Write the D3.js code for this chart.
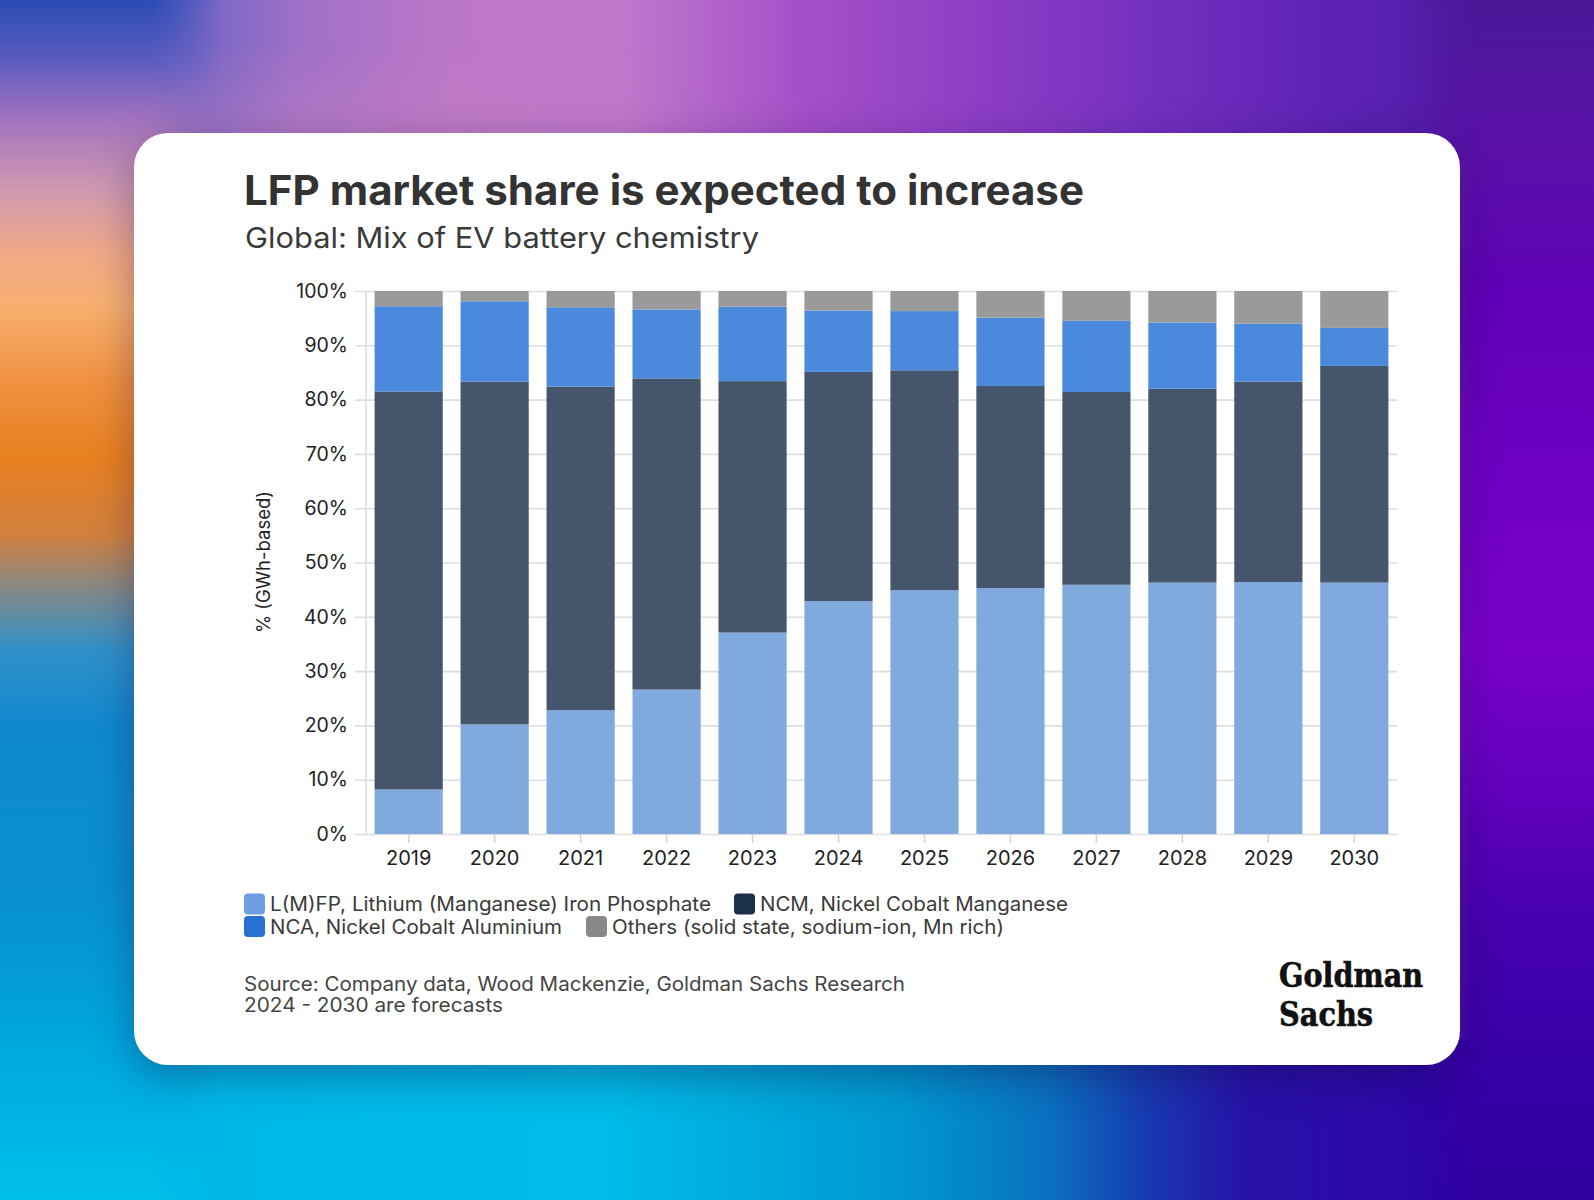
<!DOCTYPE html>
<html>
<head>
<meta charset="utf-8">
<script src="https://cdn.jsdelivr.net/npm/d3@7"></script>
<style>
  html, body { margin: 0; padding: 0; }
  body {
    width: 1594px; height: 1200px; overflow: hidden; position: relative;
    background: #7a3cc0;
  }
  .bg { position: absolute; }
  #bgTop {
    left: 0; top: 0; width: 1594px; height: 160px;
    background: linear-gradient(to right, #3050b8 0px, #6060c4 150px, #a070c8 300px, #bc78c8 450px, #c078cc 620px, #a450c8 800px, #8a3cc4 1000px, #7430c0 1150px, #5e22b4 1330px, #4a18a0 1594px);
  }
  #bgTopShade {
    left: 0; top: 0; width: 700px; height: 160px;
    background: linear-gradient(to bottom, rgba(200,130,190,0) 40px, rgba(200,130,190,0.45) 140px);
    -webkit-mask-image: linear-gradient(to right, black 0px, black 300px, transparent 700px);
  }
  #bgBottom {
    left: 0; top: 1040px; width: 1594px; height: 160px;
    background: linear-gradient(to right, #0aa0d8 0px, #00b8e8 200px, #00bce8 600px, #0098d0 900px, #0a70c0 1050px, #1838b0 1150px, #2810a8 1250px, #3200a8 1594px);
  }
  #bgLeft {
    left: 0; top: 0; width: 220px; height: 1200px;
    background: linear-gradient(to bottom, #2a4cb4 0px, #5a5cc0 60px, #a070c0 115px, #d09ab0 191px, #f0a888 252px, #f8b070 306px, #f09040 383px, #e88020 459px, #d08040 536px, #7a8a90 597px, #3090c8 650px, #1088d0 727px, #0890d0 900px, #00a8e0 1050px, #00c0e8 1200px);
    -webkit-mask-image: linear-gradient(to right, black 0px, black 150px, transparent 220px);
    mask-image: linear-gradient(to right, black 0px, black 150px, transparent 220px);
  }
  #bgRight {
    left: 1400px; top: 0; width: 194px; height: 1200px;
    background: linear-gradient(to bottom, #4a1898 0px, #5a10a8 150px, #6000b8 300px, #7000c4 500px, #7800c8 650px, #6000bc 800px, #4a00b0 900px, #3600a6 1080px, #3000a0 1200px);
    -webkit-mask-image: linear-gradient(to left, black 0px, black 120px, transparent 194px);
    mask-image: linear-gradient(to left, black 0px, black 120px, transparent 194px);
  }
  #card {
    position: absolute; left: 134px; top: 133px; width: 1326px; height: 932px;
    background: #fff; border-radius: 34px;
    box-shadow: 0 12px 40px rgba(20,10,60,0.35);
  }
  svg { position: absolute; left: 0; top: 0; }
  text { font-family: Inter, "Noto Sans", sans-serif; }
  text.logo { font-family: "DejaVu Serif", "Liberation Serif", serif; font-weight: 700; font-stretch: condensed; }
</style>
</head>
<body>
<div class="bg" id="bgTop"></div>
<div class="bg" id="bgTopShade"></div>
<div class="bg" id="bgBottom"></div>
<div class="bg" id="bgLeft"></div>
<div class="bg" id="bgRight"></div>
<div id="card"></div>
<svg id="chart" width="1594" height="1200"></svg>
<script>
const years = ["2019","2020","2021","2022","2023","2024","2025","2026","2027","2028","2029","2030"];
const seriesNames = ["L(M)FP, Lithium (Manganese) Iron Phosphate", "NCM, Nickel Cobalt Manganese", "NCA, Nickel Cobalt Aluminium", "Others (solid state, sodium-ion, Mn rich)"];
const lfp    = [8.2, 20.2, 22.8, 26.6, 37.1, 42.9, 44.9, 45.3, 45.9, 46.3, 46.4, 46.3];
const ncm    = [73.3, 63.1, 59.6, 57.3, 46.3, 42.2, 40.5, 37.2, 35.5, 35.7, 36.9, 39.9];
const nca    = [15.7, 14.8, 14.6, 12.7, 13.7, 11.3, 10.9, 12.6, 13.1, 12.2, 10.7, 7.0];
const others = [2.8, 1.9, 3.0, 3.4, 2.9, 3.6, 3.7, 4.9, 5.5, 5.8, 6.0, 6.8];
const yTicks = [0,10,20,30,40,50,60,70,80,90,100];

const barColors = ["#80a9de", "#45556b", "#4a89dc", "#9a9a9a"];
const swatchColors = ["#6c9ee0", "#1d3049", "#2870d4", "#888888"];

const svg = d3.select("#chart");

function fit(sel, w) {
  sel.attr("textLength", w).attr("lengthAdjust", "spacingAndGlyphs");
  return sel;
}

// Title & subtitle
fit(svg.append("text").attr("x", 244).attr("y", 205)
  .attr("font-size", 41).attr("font-weight", 700).attr("fill", "#333")
  .text("LFP market share is expected to increase"), 840);
fit(svg.append("text").attr("x", 245).attr("y", 248)
  .attr("font-size", 29).attr("font-weight", 400).attr("fill", "#3a3a3a")
  .text("Global: Mix of EV battery chemistry"), 514);

// Scales
const x = d3.scaleBand().domain(years).range([366, 1397]).paddingInner(0.207).paddingOuter(0.1);
const y = d3.scaleLinear().domain([0, 100]).range([834, 291]);

// Gridlines (via axis)
const grid = svg.append("g").attr("transform", "translate(1397,0)")
  .call(d3.axisLeft(y).tickValues(yTicks).tickSize(1042).tickFormat(""));
grid.select(".domain").remove();
grid.selectAll("line").attr("stroke", "#dedede").attr("stroke-width", 1.6);

// vertical axis line
svg.append("line").attr("x1", x.range()[0]).attr("x2", x.range()[0])
  .attr("y1", y(0)).attr("y2", y(100)).attr("stroke", "#dedede").attr("stroke-width", 1.6);

// Y labels
const yAx = svg.append("g").attr("transform", "translate(355,0)")
  .call(d3.axisLeft(y).tickValues(yTicks).tickSize(0).tickPadding(7).tickFormat(d => d + "%"));
yAx.select(".domain").remove();
yAx.selectAll("text").attr("font-size", 19.5).attr("fill", "#222");

// Y title
svg.append("text").attr("transform", "translate(270,562) rotate(-90)")
  .attr("text-anchor", "middle").attr("font-size", 18.5).attr("fill", "#222")
  .text("% (GWh-based)");

// Stacked data
const rows = years.map((yr, i) => ({year: yr, s0: lfp[i], s1: ncm[i], s2: nca[i], s3: others[i]}));
const stack = d3.stack().keys(["s0","s1","s2","s3"])(rows);

svg.append("g").selectAll("g").data(stack).join("g")
  .attr("fill", (d, i) => barColors[i])
  .selectAll("rect").data(d => d).join("rect")
  .attr("x", d => x(d.data.year))
  .attr("width", x.bandwidth())
  .attr("y", d => y(d[1]))
  .attr("height", d => y(d[0]) - y(d[1]));

// X axis
const xAx = svg.append("g").attr("transform", `translate(0,${y(0)})`)
  .call(d3.axisBottom(x).tickSize(9).tickPadding(8));
xAx.select(".domain").remove();
xAx.selectAll("line").attr("stroke", "#d6d6d6").attr("stroke-width", 1.6);
xAx.selectAll("text").attr("font-size", 20).attr("fill", "#222");

// Legend
const legendItems = [
  {i: 0, sx: 244, tx: 270, y: 904, w: 441},
  {i: 1, sx: 734, tx: 760, y: 904, w: 308},
  {i: 2, sx: 244, tx: 270, y: 926.5, w: 292},
  {i: 3, sx: 586, tx: 612, y: 926.5, w: 392}
];
const lg = svg.append("g");
legendItems.forEach(it => {
  lg.append("rect").attr("x", it.sx).attr("y", it.y - 10.5).attr("width", 21).attr("height", 21)
    .attr("rx", 4).attr("fill", swatchColors[it.i]);
  fit(lg.append("text").attr("x", it.tx).attr("y", it.y + 7).attr("font-size", 19.5)
    .attr("fill", "#3a3a3a").text(seriesNames[it.i]), it.w);
});

// Source
fit(svg.append("text").attr("x", 244).attr("y", 990.5).attr("font-size", 19.5).attr("fill", "#444")
  .text("Source: Company data, Wood Mackenzie, Goldman Sachs Research"), 661);
fit(svg.append("text").attr("x", 244).attr("y", 1011.5).attr("font-size", 19.5).attr("fill", "#444")
  .text("2024 - 2030 are forecasts"), 259);

// Logo
fit(svg.append("text").attr("class", "logo").attr("x", 1279).attr("y", 987).attr("font-size", 33)
  .attr("fill", "#111").attr("stroke", "#111").attr("stroke-width", 0.6).text("Goldman"), 144);
fit(svg.append("text").attr("class", "logo").attr("x", 1279).attr("y", 1025.5).attr("font-size", 33)
  .attr("fill", "#111").attr("stroke", "#111").attr("stroke-width", 0.6).text("Sachs"), 94);
</script>
</body>
</html>
